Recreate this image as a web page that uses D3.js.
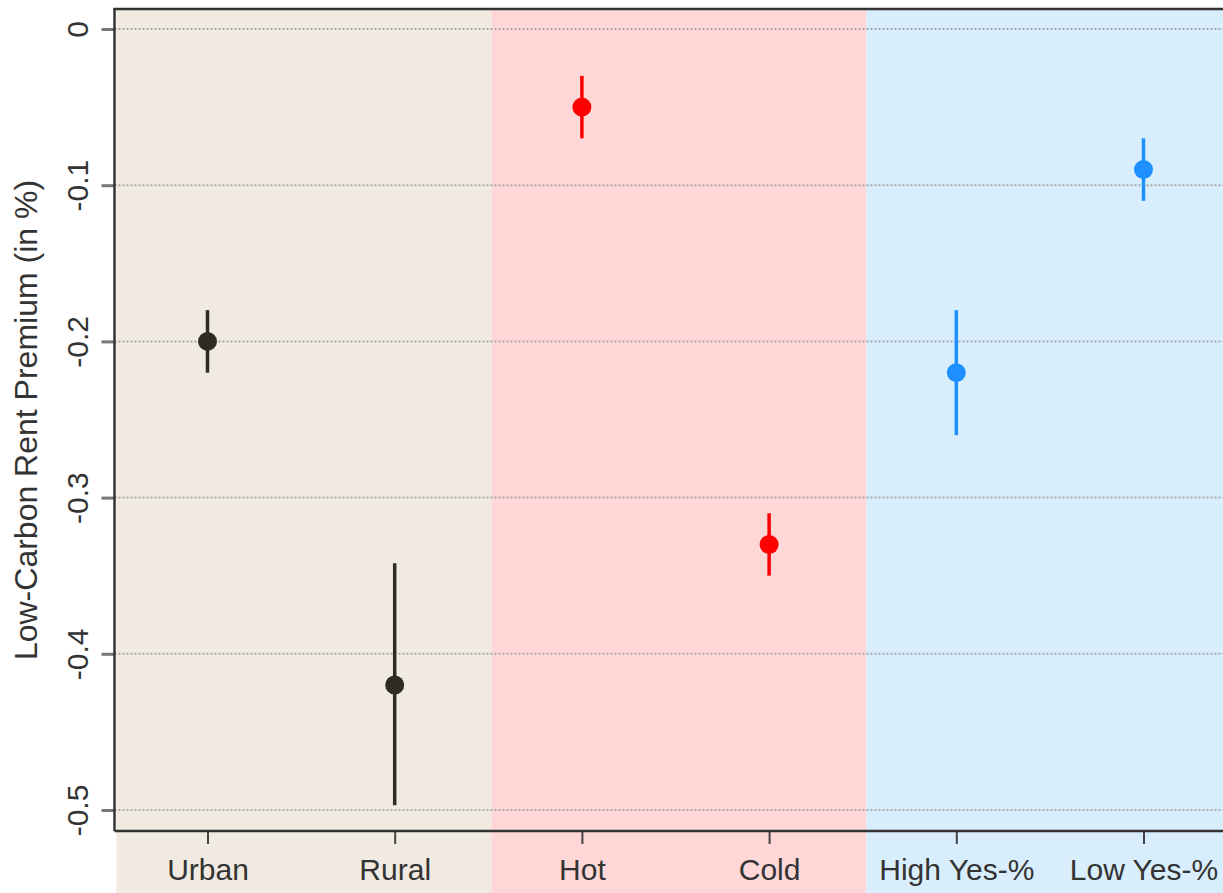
<!DOCTYPE html>
<html>
<head>
<meta charset="utf-8">
<script src="https://cdn.jsdelivr.net/npm/d3@7"></script>
<style>
  html, body { margin: 0; padding: 0; background: #ffffff; }
  svg { display: block; font-family: "Liberation Sans", Arial, sans-serif; }
</style>
</head>
<body>
<svg id="chart" width="1223" height="893"></svg>
<script>
// Subgroup estimates of the low-carbon rent premium with confidence intervals
const categories = ["Urban", "Rural", "Hot", "Cold", "High Yes-%", "Low Yes-%"];
const estimates  = [-0.20, -0.42, -0.05, -0.33, -0.22, -0.09];
const ciLower    = [-0.22, -0.497, -0.07, -0.35, -0.26, -0.11];
const ciUpper    = [-0.18, -0.342, -0.03, -0.31, -0.18, -0.07];
const groupOf    = [0, 0, 1, 1, 2, 2];

// Background panels: one per split (location, climate, referendum vote),
// edges given in category units
const groupEdges = [-0.487, 1.516, 3.519, 5.6];
const groupFill  = ["#f0eae1", "#ffd7d7", "#d9eefc"];
const groupColor = ["#2e2a24", "#ff0000", "#1e90ff"];

const yTicks = [0, -0.1, -0.2, -0.3, -0.4, -0.5];
const yTitle = "Low-Carbon Rent Premium (in %)";

const W = 1223, H = 893;
const svg = d3.select("#chart");

const x = d3.scaleLinear().domain([0, 5]).range([207.5, 1143.5]);
const y = d3.scaleLinear().domain([0, -0.5]).range([29, 810]);
const plotLeft = 114.5, plotTop = 9, plotBottom = 831;

// shaded panels run from the top of the box down past the category labels
svg.append("g").selectAll("rect")
  .data(groupFill)
  .join("rect")
  .attr("x", (d, i) => x(groupEdges[i]))
  .attr("y", plotTop)
  .attr("width", (d, i) => x(groupEdges[i + 1]) - x(groupEdges[i]))
  .attr("height", H - plotTop)
  .attr("fill", (d) => d);

// dotted horizontal reference lines
svg.append("g").selectAll("line")
  .data(yTicks)
  .join("line")
  .attr("x1", plotLeft).attr("x2", W)
  .attr("y1", (d) => y(d)).attr("y2", (d) => y(d))
  .attr("stroke", "#a8a8a8")
  .attr("stroke-width", 2)
  .attr("stroke-dasharray", "2,2");

// y axis
const yAxis = d3.axisLeft(y)
  .tickValues(yTicks)
  .tickFormat((d) => d === 0 ? "0" : d3.format(".1f")(d).replace("−", "-"))
  .tickSize(13)
  .tickPadding(0);
const gy = svg.append("g").attr("transform", `translate(${plotLeft},0)`).call(yAxis);
gy.select(".domain").remove();
gy.selectAll(".tick line").attr("stroke", "#777").attr("stroke-width", 3);
gy.selectAll(".tick text")
  .attr("x", 0).attr("y", 0)
  .attr("transform", "translate(-27,0) rotate(-90)")
  .attr("text-anchor", "middle")
  .attr("dy", 0)
  .attr("font-size", 30)
  .attr("fill", "#333");

// x axis
const xAxis = d3.axisBottom(x)
  .tickValues(d3.range(categories.length))
  .tickFormat((i) => categories[i])
  .tickSize(13)
  .tickPadding(15);
const gx = svg.append("g").attr("transform", `translate(0,${plotBottom})`).call(xAxis);
gx.select(".domain").remove();
gx.selectAll(".tick line").attr("stroke", "#444").attr("stroke-width", 2);
gx.selectAll(".tick text").attr("font-size", 30).attr("fill", "#333");

// box lines: left, bottom, top
svg.append("line").attr("x1", plotLeft).attr("x2", plotLeft).attr("y1", plotTop).attr("y2", plotBottom)
  .attr("stroke", "#333").attr("stroke-width", 2.5);
svg.append("line").attr("x1", plotLeft).attr("x2", W).attr("y1", plotBottom).attr("y2", plotBottom)
  .attr("stroke", "#333").attr("stroke-width", 2.5);
svg.append("line").attr("x1", plotLeft - 1.25).attr("x2", W).attr("y1", plotTop).attr("y2", plotTop)
  .attr("stroke", "#333").attr("stroke-width", 2.5);

// confidence intervals
svg.append("g").selectAll("line")
  .data(categories)
  .join("line")
  .attr("x1", (d, i) => x(i)).attr("x2", (d, i) => x(i))
  .attr("y1", (d, i) => y(ciUpper[i])).attr("y2", (d, i) => y(ciLower[i]))
  .attr("stroke", (d, i) => groupColor[groupOf[i]])
  .attr("stroke-width", 3.5);

// point estimates
svg.append("g").selectAll("circle")
  .data(categories)
  .join("circle")
  .attr("cx", (d, i) => x(i))
  .attr("cy", (d, i) => y(estimates[i]))
  .attr("r", 9.5)
  .attr("fill", (d, i) => groupColor[groupOf[i]]);

// y axis title
svg.append("text")
  .attr("transform", `translate(37,${(plotTop + plotBottom) / 2}) rotate(-90)`)
  .attr("text-anchor", "middle")
  .attr("font-size", 32)
  .attr("fill", "#333")
  .text(yTitle);
</script>
</body>
</html>
